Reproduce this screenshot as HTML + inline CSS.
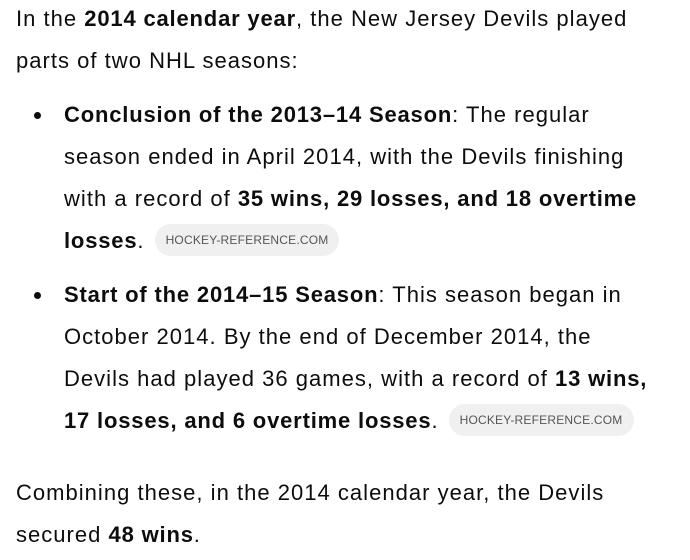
<!DOCTYPE html>
<html><head><meta charset="utf-8"><style>
body{margin:0;width:690px;height:560px;background:#fff;overflow:hidden;font-family:"Liberation Sans",sans-serif;color:#0d0d0d;}
.l{position:absolute;white-space:nowrap;font-size:22px;line-height:42px;height:42px;letter-spacing:1.02px}
b{font-weight:bold;letter-spacing:0.82px}
.pill{display:inline-block;vertical-align:middle;background:#f0f0f0;color:#555;font-size:12px;letter-spacing:0.2px;line-height:32px;height:32px;padding:0 11px;border-radius:16px;margin-left:10px;position:relative;top:-2px}
.dot{position:absolute;width:7px;height:7px;border-radius:50%;background:#0d0d0d}
</style></head><body>
<div>
<div class="l" style="left:16px;top:-2px">In the <b>2014 calendar year</b>, the New Jersey Devils played</div>
<div class="l" style="left:16px;top:40px">parts of two NHL seasons:</div>
</div>
<div>
<div class="dot" style="left:34px;top:112px"></div>
<div class="l" style="left:64px;top:94px"><b>Conclusion of the 2013–14 Season</b>: The regular</div>
<div class="l" style="left:64px;top:136px">season ended in April 2014, with the Devils finishing</div>
<div class="l" style="left:64px;top:178px">with a record of <b>35 wins, 29 losses, and 18 overtime</b></div>
<div class="l" style="left:64px;top:220px"><b>losses</b>.<span class="pill">HOCKEY-REFERENCE.COM</span></div>
<div class="dot" style="left:34px;top:292px"></div>
<div class="l" style="left:64px;top:274px"><b>Start of the 2014–15 Season</b>: This season began in</div>
<div class="l" style="left:64px;top:316px">October 2014. By the end of December 2014, the</div>
<div class="l" style="left:64px;top:358px">Devils had played 36 games, with a record of <b>13 wins,</b></div>
<div class="l" style="left:64px;top:400px"><b>17 losses, and 6 overtime losses</b>.<span class="pill">HOCKEY-REFERENCE.COM</span></div>
</div>
<div>
<div class="l" style="left:16px;top:472px">Combining these, in the 2014 calendar year, the Devils</div>
<div class="l" style="left:16px;top:514px">secured <b>48 wins</b>.</div>
</div>
</body></html>
